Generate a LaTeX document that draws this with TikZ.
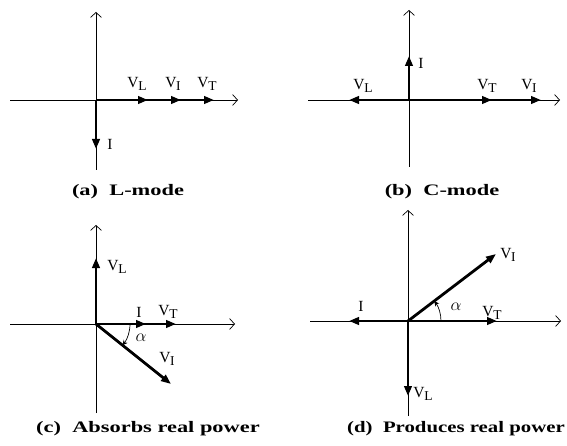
\documentclass[tikz,border=0pt]{standalone}
\usepackage{fontspec}
\setmainfont{Liberation Serif}
\usetikzlibrary{arrows.meta}
\newcommand{\phs}[2]{#1\kern-0.3pt\raisebox{-0.45ex}{\fontsize{13.5}{13.5}\selectfont #2}}
\newcommand{\capt}[1]{\scalebox{1.4}[1]{#1}}
\tikzset{
  axis/.style={-{Straight Barb[length=5pt,width=11pt]}, line width=0.7pt},
  phasor/.style={-{Triangle[length=10pt,width=7.5pt]}, line width=2.8pt},
  anglearc/.style={-{Stealth[length=5pt,width=5pt]}, line width=0.7pt},
  lbl/.style={inner sep=0pt, font=\fontsize{15.5}{17}\selectfont},
  subcap/.style={inner sep=0pt, font=\fontsize{16}{18}\selectfont\bfseries},
}
\begin{document}
\begin{tikzpicture}[x=1pt,y=-1pt]
  \useasboundingbox (0,0) rectangle (567,446);

  % (a) L-mode
  \coordinate (Oa) at (96,100);
  \coordinate (aW) at (10,100);
  \coordinate (aE) at (238,100);
  \coordinate (aS) at (96,170);
  \coordinate (aN) at (96,12);
  \draw[axis] (aW) -- (aE);
  \draw[axis] (aS) -- (aN);
  \coordinate (aVT) at (214,100);
  \coordinate (aVI) at (181,100);
  \coordinate (aVL) at (148,100);
  \coordinate (aI) at (96,149);
  \draw[phasor] (Oa) -- (aVT);
  \draw[phasor] (Oa) -- (aVI);
  \draw[phasor] (Oa) -- (aVL);
  \draw[phasor] (Oa) -- (aI);
  \node[lbl] (aVLlbl) at (137,84) {\phs{V}{L}};
  \node[lbl] (aVIlbl) at (173,84) {\phs{V}{I}};
  \node[lbl] (aVTlbl) at (207,84) {\phs{V}{T}};
  \node[lbl] (aIlbl) at (110,144) {I};
  \node[subcap] (acap) at (128,192) {\capt{(a)\hspace{0.5em}L-mode}};

  % (b) C-mode
  \coordinate (Ob) at (409,100);
  \coordinate (bW) at (308,100);
  \coordinate (bE) at (560,100);
  \coordinate (bS) at (409,167);
  \coordinate (bN) at (409,10);
  \draw[axis] (bW) -- (bE);
  \draw[axis] (bS) -- (bN);
  \coordinate (bVI) at (541,100);
  \coordinate (bVT) at (492,100);
  \coordinate (bVL) at (349,100);
  \coordinate (bI) at (409,56);
  \draw[phasor] (Ob) -- (bVI);
  \draw[phasor] (Ob) -- (bVT);
  \draw[phasor] (Ob) -- (bVL);
  \draw[phasor] (Ob) -- (bI);
  \node[lbl] (bVLlbl) at (363,86) {\phs{V}{L}};
  \node[lbl] (bVTlbl) at (487,86) {\phs{V}{T}};
  \node[lbl] (bVIlbl) at (529,86) {\phs{V}{I}};
  \node[lbl] (bIlbl) at (421,63) {I};
  \node[subcap] (bcap) at (442,192) {\capt{(b)\hspace{0.5em}C-mode}};

  % (c) Absorbs real power
  \coordinate (Oc) at (96,324);
  \coordinate (cW) at (10,324);
  \coordinate (cE) at (235,324);
  \coordinate (cS) at (96,413);
  \coordinate (cN) at (96,225);
  \draw[axis] (cW) -- (cE);
  \draw[axis] (cS) -- (cN);
  \coordinate (cVT) at (176,324);
  \coordinate (cI) at (146,324);
  \coordinate (cVL) at (96,258);
  \coordinate (cVI) at (171,384);
  \draw[phasor] (Oc) -- (cVT);
  \draw[phasor] (Oc) -- (cI);
  \draw[phasor] (Oc) -- (cVL);
  \draw[phasor] (Oc) -- (cVI);
  \draw[anglearc] ([xshift=34pt]Oc) arc[start angle=0, end angle=-38.6, radius=34pt];
  \node[lbl] (cVLlbl) at (117,267) {\phs{V}{L}};
  \node[lbl] (cIlbl) at (139,312) {I};
  \node[lbl] (cVTlbl) at (168,312) {\phs{V}{T}};
  \node[lbl] (cVIlbl) at (167,359) {\phs{V}{I}};
  \node[lbl, font=\fontsize{17}{17}\selectfont] (calpha) at (141,338) {$\alpha$};
  \node[subcap] (ccap) at (148,429) {\capt{(c)\hspace{0.5em}Absorbs real power}};

  % (d) Produces real power
  \coordinate (Od) at (408,321);
  \coordinate (dW) at (310,321);
  \coordinate (dE) at (561,321);
  \coordinate (dS) at (408,416);
  \coordinate (dN) at (408,210);
  \draw[axis] (dW) -- (dE);
  \draw[axis] (dS) -- (dN);
  \coordinate (dVT) at (497,321);
  \coordinate (dI) at (349,321);
  \coordinate (dVL) at (408,396);
  \coordinate (dVI) at (496,254);
  \draw[phasor] (Od) -- (dVT);
  \draw[phasor] (Od) -- (dI);
  \draw[phasor] (Od) -- (dVL);
  \draw[phasor] (Od) -- (dVI);
  \draw[anglearc] ([xshift=33pt]Od) arc[start angle=0, end angle=37, radius=33pt];
  \node[lbl] (dVIlbl) at (508,255) {\phs{V}{I}};
  \node[lbl] (dIlbl) at (361,306) {I};
  \node[lbl, font=\fontsize{17}{17}\selectfont] (dalpha) at (456,307) {$\alpha$};
  \node[lbl] (dVTlbl) at (492,313) {\phs{V}{T}};
  \node[lbl] (dVLlbl) at (423,394) {\phs{V}{L}};
  \node[subcap] (dcap) at (456,429) {\scalebox{1.3}[1]{(d)\hspace{0.5em}Produces real power}};
\end{tikzpicture}
\end{document}
